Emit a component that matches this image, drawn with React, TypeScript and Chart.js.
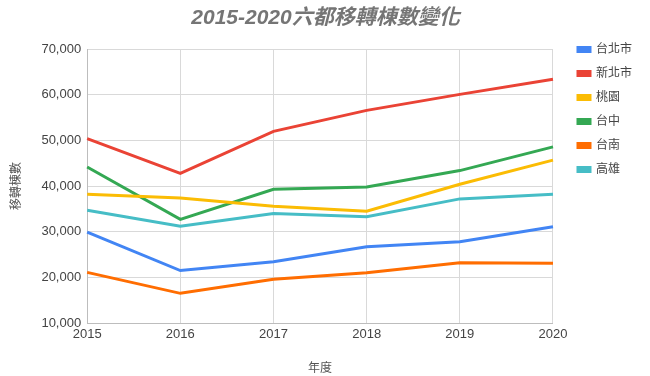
import React, { useEffect, useRef } from "react";
import { Chart, registerables } from "chart.js";

Chart.register(...registerables);

const years = ["2015", "2016", "2017", "2018", "2019", "2020"];
const taipei = [29900, 21500, 23400, 26700, 27800, 31100];
const newTaipei = [50400, 42800, 52000, 56600, 60100, 63400];
const taoyuan = [38200, 37400, 35600, 34500, 40400, 45700];
const taichung = [44200, 32700, 39300, 39800, 43400, 48600];
const tainan = [21100, 16500, 19600, 21000, 23200, 23100];
const kaohsiung = [34700, 31200, 34000, 33300, 37200, 38200];

const seriesNames = ["台北市", "新北市", "桃園", "台中", "台南", "高雄"];
const seriesColors = ["#4285f4", "#ea4335", "#fbbc04", "#34a853", "#ff6d01", "#46bdc6"];
const seriesData = [taipei, newTaipei, taoyuan, taichung, tainan, kaohsiung];

const FONT = "'Liberation Sans', Arial, 'Noto Sans CJK TC', sans-serif";

export default function App() {
  const ref = useRef<HTMLCanvasElement | null>(null);
  useEffect(() => {
    document.body.style.margin = "0";
    const chart = new Chart(ref.current as HTMLCanvasElement, {
      type: "line",
      data: {
        labels: years,
        datasets: seriesNames.map((name, i) => ({
          label: name,
          data: seriesData[i],
          borderColor: seriesColors[i],
          backgroundColor: seriesColors[i],
          borderWidth: 3,
          pointRadius: 0,
          tension: 0,
        })),
      },
      options: {
        responsive: false,
        animation: false,
        layout: { padding: { left: 9, right: 8, top: 2, bottom: 0 } },
        plugins: {
          title: {
            display: true,
            text: "2015-2020六都移轉棟數變化",
            color: "#757575",
            font: { family: FONT, size: 21, weight: "bold", style: "italic" },
            padding: { top: 4, bottom: 18 },
          },
          legend: {
            position: "right",
            align: "start",
            title: {
              display: true,
              text: " ",
              font: { family: FONT, size: 12 },
              padding: { top: 15, bottom: 0 },
            },
            labels: {
              boxWidth: 12,
              boxHeight: 4,
              color: "#444",
              font: { family: FONT, size: 12 },
              padding: 12,
            },
          },
          tooltip: { enabled: false },
        },
        scales: {
          x: {
            grid: { color: "#d9d9d9", drawTicks: false },
            border: { color: "#bdbdbd" },
            ticks: { color: "#444", font: { family: FONT, size: 13 }, padding: 4 },
            title: {
              display: true,
              text: "年度",
              color: "#555",
              font: { family: FONT, size: 12 },
              padding: { top: 15, bottom: 0 },
            },
          },
          y: {
            min: 10000,
            max: 70000,
            grid: { color: "#d9d9d9", drawTicks: false },
            border: { color: "#bdbdbd" },
            ticks: {
              stepSize: 10000,
              color: "#444",
              font: { family: FONT, size: 13 },
              padding: 6,
              callback: (v: any) => Number(v).toLocaleString("en-US"),
            },
            title: {
              display: true,
              text: "移轉棟數",
              color: "#555",
              font: { family: FONT, size: 12 },
              padding: { top: 0, bottom: 12 },
            },
          },
          gap: {
            type: "linear",
            position: "right",
            display: true,
            grid: { drawOnChartArea: false, drawTicks: false },
            border: { display: false },
            ticks: { display: false },
            afterFit: (s: any) => {
              s.width = 13;
            },
          },
        },
      },
    });
    return () => chart.destroy();
  }, []);
  return (
    <div style={{ position: "absolute", left: 0, top: 0, width: 650, height: 376, background: "#fff" }}>
      <canvas ref={ref} width={650} height={376} />
    </div>
  );
}
